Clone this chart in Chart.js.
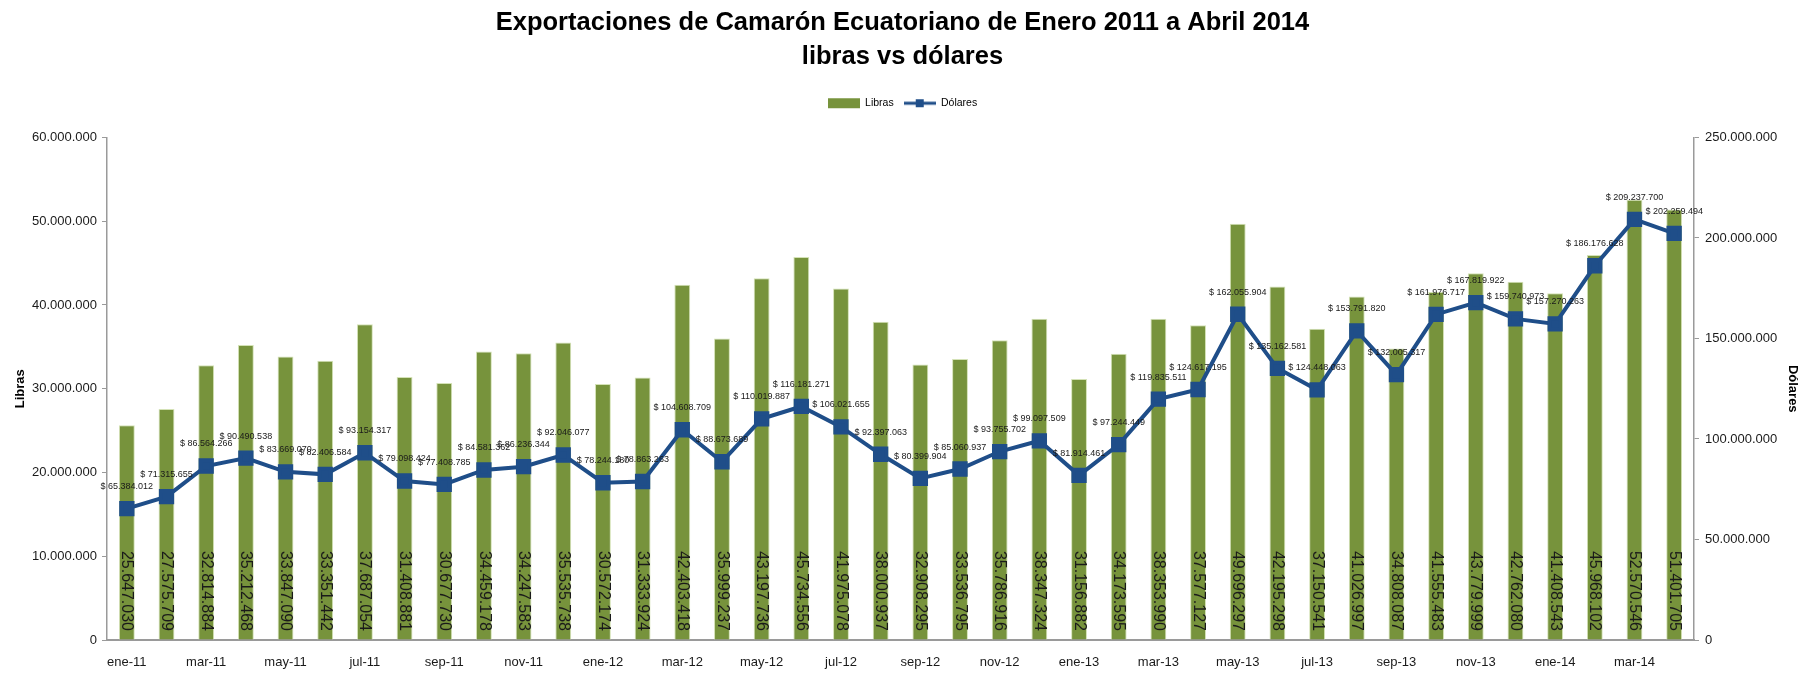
<!DOCTYPE html>
<html>
<head>
<meta charset="utf-8">
<script src="https://cdn.jsdelivr.net/npm/chart.js@4"></script>
<style>
  html, body { margin: 0; padding: 0; background: #fff; }
  #wrap { width: 1805px; height: 674px; }
</style>
</head>
<body>
<div id="wrap"><canvas id="c"></canvas></div>
<script>
const categories = [
  'ene-11','feb-11','mar-11','abr-11','may-11','jun-11','jul-11','ago-11','sep-11','oct-11','nov-11','dic-11',
  'ene-12','feb-12','mar-12','abr-12','may-12','jun-12','jul-12','ago-12','sep-12','oct-12','nov-12','dic-12',
  'ene-13','feb-13','mar-13','abr-13','may-13','jun-13','jul-13','ago-13','sep-13','oct-13','nov-13','dic-13',
  'ene-14','feb-14','mar-14','abr-14'
];
const libras = [
  25647030, 27575709, 32814884, 35212468, 33847090, 33351442, 37687054, 31408881, 30677730, 34459178, 34247583, 35535738,
  30572174, 31333924, 42403418, 35999237, 43197736, 45734556, 41975078, 38000937, 32908295, 33536795, 35786916, 38347324,
  31156882, 34173595, 38353990, 37577127, 49696297, 42195298, 37150541, 41026997, 34808087, 41555483, 43779999, 42762080,
  41408543, 45968102, 52570546, 51401705
];
const dolares = [
  65384012, 71315655, 86564266, 90490538, 83669070, 82406584, 93154317, 79098424, 77408785, 84581362, 86236344, 92046077,
  78244180, 78863263, 104608709, 88673689, 110019887, 116181271, 106021655, 92397063, 80399904, 85060937, 93755702, 99097509,
  81914461, 97244449, 119835511, 124617195, 162055904, 135162581, 124448063, 153791820, 132005317, 161976717, 167819922, 159740973,
  157270263, 186176628, 209237700, 202259494
];
const leftTicks = [0, 10000000, 20000000, 30000000, 40000000, 50000000, 60000000];
const rightTicks = [0, 50000000, 100000000, 150000000, 200000000, 250000000];

const GREEN = '#77933C';
const BLUE = '#1F4E89';
const SANS = "'Liberation Sans', Arial, sans-serif";

function fmt(v) {
  return String(Math.round(v)).replace(/\B(?=(\d{3})+(?!\d))/g, '.');
}

function legendIcon(kind) {
  const cv = document.createElement('canvas');
  cv.width = 32; cv.height = 12;
  const g = cv.getContext('2d');
  if (kind === 'bar') {
    g.fillStyle = GREEN;
    g.fillRect(0, 1, 32, 10);
  } else {
    g.strokeStyle = BLUE;
    g.lineWidth = 3;
    g.beginPath(); g.moveTo(0, 6); g.lineTo(32, 6); g.stroke();
    g.fillStyle = BLUE;
    g.fillRect(12, 2, 8, 8);
  }
  return cv;
}

const legendSpacer = {
  id: 'legendSpacer',
  beforeInit(chart) {
    const lg = chart.legend;
    if (!lg) return;
    const origFit = lg.fit;
    lg.fit = function () {
      origFit.call(this);
      this.height += 19;
    };
  }
};

const labelPlugin = {
  id: 'valueLabels',
  afterDatasetsDraw(chart) {
    const ctx = chart.ctx;
    const yScale = chart.scales.y;
    const barMeta = chart.getDatasetMeta(0);
    ctx.save();
    ctx.fillStyle = '#1a1a1a';
    ctx.font = '16px ' + SANS;
    ctx.textAlign = 'right';
    ctx.textBaseline = 'middle';
    barMeta.data.forEach((el, i) => {
      ctx.save();
      ctx.translate(el.x, yScale.bottom - 9);
      ctx.rotate(Math.PI / 2);
      ctx.fillText(fmt(libras[i]), 0, 0);
      ctx.restore();
    });
    ctx.restore();
    const lineMeta = chart.getDatasetMeta(1);
    ctx.save();
    ctx.fillStyle = '#1a1a1a';
    ctx.font = '9px ' + SANS;
    ctx.textAlign = 'center';
    ctx.textBaseline = 'middle';
    lineMeta.data.forEach((el, i) => {
      ctx.fillText('$ ' + fmt(dolares[i]), el.x, el.y - 22);
    });
    ctx.restore();
  }
};

new Chart(document.getElementById('c'), {
  data: {
    labels: categories,
    datasets: [
      {
        type: 'bar',
        label: 'Libras',
        data: libras,
        yAxisID: 'y',
        backgroundColor: GREEN,
        borderColor: '#d4e2b6',
        borderWidth: 1,
        barPercentage: 0.4,
        categoryPercentage: 1.0,
        order: 1
      },
      {
        type: 'line',
        label: 'Dólares',
        data: dolares,
        yAxisID: 'y1',
        borderColor: BLUE,
        backgroundColor: BLUE,
        borderWidth: 4,
        pointStyle: 'rect',
        pointRadius: 8,
        pointHoverRadius: 8,
        pointBackgroundColor: BLUE,
        pointBorderColor: BLUE,
        tension: 0,
        order: 0
      }
    ]
  },
  options: {
    responsive: true,
    maintainAspectRatio: false,
    animation: false,
    layout: { padding: { left: 0, right: 0, top: 0, bottom: 0 } },
    plugins: {
      title: {
        display: true,
        text: ['Exportaciones de Camarón Ecuatoriano de Enero 2011 a Abril 2014', 'libras vs dólares'],
        color: '#000',
        font: { family: SANS, size: 25.5, weight: 'bold', lineHeight: 1.333 },
        padding: { top: 5.5, bottom: 14.5 }
      },
      legend: {
        display: true,
        position: 'top',
        labels: {
          usePointStyle: true,
          pointStyleWidth: 32,
          padding: 10,
          color: '#1a1a1a',
          font: { family: SANS, size: 10.5 },
          generateLabels(chart) {
            return [
              { text: 'Libras', pointStyle: legendIcon('bar'), datasetIndex: 0, fillStyle: GREEN, strokeStyle: GREEN, lineWidth: 0, hidden: false },
              { text: 'Dólares', pointStyle: legendIcon('line'), datasetIndex: 1, fillStyle: BLUE, strokeStyle: BLUE, lineWidth: 0, hidden: false }
            ];
          }
        }
      },
      tooltip: { enabled: false }
    },
    scales: {
      x: {
        type: 'category',
        offset: true,
        grid: { display: false, drawOnChartArea: false },
        border: { display: true, color: '#9a9a9a', width: 2 },
        ticks: {
          autoSkip: false,
          maxRotation: 0,
          minRotation: 0,
          padding: 7,
          color: '#1a1a1a',
          font: { family: SANS, size: 13 },
          callback: function (v, i) { return i % 2 === 0 ? this.getLabelForValue(v) : ''; }
        },
        afterFit: (s) => { s.height = 34; }
      },
      y: {
        position: 'left',
        min: 0, max: 60000000,
        afterBuildTicks: (s) => { s.ticks = leftTicks.map(v => ({ value: v })); },
        grid: { display: true, drawOnChartArea: false, drawTicks: true, tickLength: 5, color: '#9a9a9a' },
        border: { display: true, color: '#9a9a9a', width: 1.5 },
        ticks: { padding: 5, color: '#1a1a1a', font: { family: SANS, size: 13 }, callback: (v) => fmt(v) },
        title: { display: true, text: 'Libras', color: '#000', font: { family: SANS, size: 13, weight: 'bold' }, padding: { top: 13, bottom: 0 } },
        afterFit: (s) => { s.width = 107; }
      },
      y1: {
        position: 'right',
        min: 0, max: 250000000,
        afterBuildTicks: (s) => { s.ticks = rightTicks.map(v => ({ value: v })); },
        grid: { display: true, drawOnChartArea: false, drawTicks: true, tickLength: 5, color: '#9a9a9a' },
        border: { display: true, color: '#9a9a9a', width: 1.5 },
        ticks: { padding: 6, color: '#1a1a1a', font: { family: SANS, size: 13 }, callback: (v) => fmt(v) },
        title: { display: true, text: 'Dólares', color: '#000', font: { family: SANS, size: 13, weight: 'bold' }, padding: { top: 5, bottom: 0 } },
        afterFit: (s) => { s.width = 111; }
      }
    }
  },
  plugins: [legendSpacer, labelPlugin]
});
</script>
</body>
</html>
